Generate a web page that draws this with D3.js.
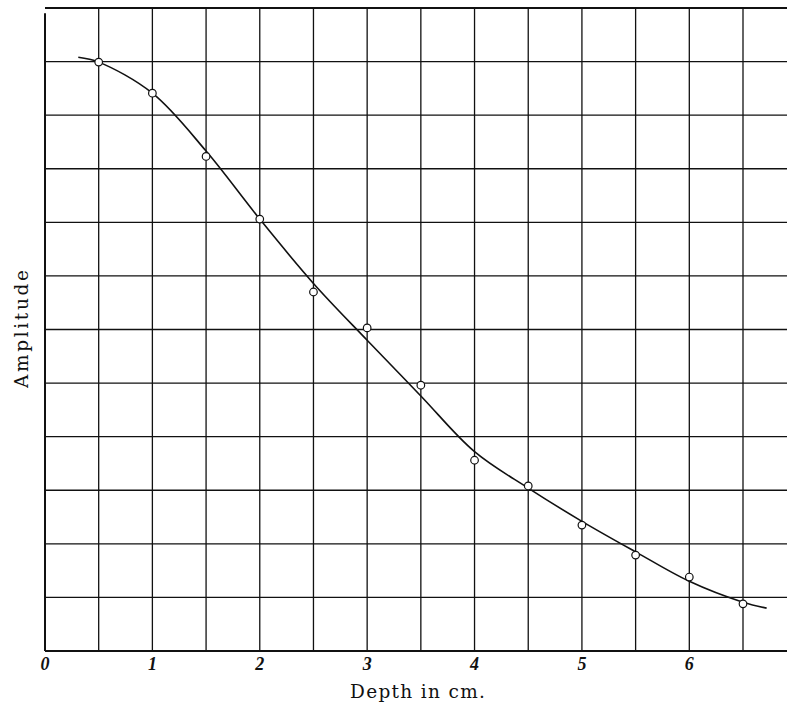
<!DOCTYPE html>
<html>
<head>
<meta charset="utf-8">
<script src="https://cdn.jsdelivr.net/npm/d3@7"></script>
<style>
  body { margin: 0; background: #fff; }
  svg { display: block; }
</style>
</head>
<body>
<svg></svg>
<script>
// page size
const width = 787,
    height = 706;

// measured points (depth in cm, amplitude in grid units)
const depths = [0.5, 1, 1.5, 2, 2.5, 3, 3.5, 4, 4.5, 5, 5.5, 6, 6.5];
const amplitudes = [10.99, 10.41, 9.23, 8.06, 6.70, 6.03, 4.96, 3.56, 3.08, 2.35, 1.79, 1.38, 0.88];

// smooth drawn curve
const curveDepths = [0.31, 0.5, 1, 1.5, 2, 2.5, 3, 3.5, 4, 4.5, 5, 5.5, 6, 6.5, 6.72];
const curveAmps = [11.08, 10.99, 10.41, 9.33, 8.06, 6.86, 5.80, 4.76, 3.72, 3.04, 2.42, 1.85, 1.30, 0.91, 0.80];

const xTickLabels = ["0", "1", "2", "3", "4", "5", "6"];
const xGrid = [0.5, 1, 1.5, 2, 2.5, 3, 3.5, 4, 4.5, 5, 5.5, 6, 6.5];
const yGrid = [1, 2, 3, 4, 5, 6, 7, 8, 9, 10, 11, 12];

const x = d3.scaleLinear().domain([0, 6.5]).range([45, 743]);
const y = d3.scaleLinear().domain([0, 12]).range([651, 8]);

const svg = d3.select("svg")
    .attr("width", width)
    .attr("height", height);

// horizontal grid lines
svg.selectAll(".hgrid")
    .data(yGrid)
    .enter()
    .append("line")
    .attr("class", "hgrid")
    .attr("x1", x(0))
    .attr("x2", width)
    .attr("y1", d => y(d))
    .attr("y2", d => y(d))
    .attr("stroke", "#111")
    .attr("stroke-width", d => d === 12 ? 1.8 : 1.3);

// vertical grid lines
svg.selectAll(".vgrid")
    .data(xGrid)
    .enter()
    .append("line")
    .attr("class", "vgrid")
    .attr("x1", d => x(d))
    .attr("x2", d => x(d))
    .attr("y1", y(12))
    .attr("y2", y(0))
    .attr("stroke", "#111")
    .attr("stroke-width", 1.3);

// axes frame
svg.append("line")
    .attr("x1", x(0)).attr("x2", x(0))
    .attr("y1", y(11.9)).attr("y2", y(0))
    .attr("stroke", "#111")
    .attr("stroke-width", 2);

svg.append("line")
    .attr("x1", x(0)).attr("x2", width)
    .attr("y1", y(0)).attr("y2", y(0))
    .attr("stroke", "#111")
    .attr("stroke-width", 1.8);

// x tick labels
svg.selectAll(".xlab")
    .data(xTickLabels)
    .enter()
    .append("text")
    .attr("class", "xlab")
    .attr("x", d => x(+d))
    .attr("y", 670)
    .attr("text-anchor", "middle")
    .attr("font-family", "Liberation Serif, serif")
    .attr("font-style", "italic")
    .attr("font-weight", "bold")
    .attr("font-size", 18)
    .attr("fill", "#111")
    .text(d => d);

// axis titles
svg.append("text")
    .attr("x", 350)
    .attr("y", 698)
    .attr("textLength", 135)
    .attr("lengthAdjust", "spacing")
    .attr("font-family", "DejaVu Serif, serif")
    .attr("font-size", 18.5)
    .attr("fill", "#111")
    .text("Depth in cm.");

svg.append("text")
    .attr("transform", "translate(28,388) rotate(-90)")
    .attr("textLength", 118)
    .attr("lengthAdjust", "spacing")
    .attr("font-family", "DejaVu Serif, serif")
    .attr("font-size", 18.5)
    .attr("fill", "#111")
    .text("Amplitude");

// smooth curve
const line = d3.line()
    .x(d => x(d[0]))
    .y(d => y(d[1]))
    .curve(d3.curveCatmullRom.alpha(0.5));

svg.append("path")
    .datum(curveDepths.map((d, i) => [d, curveAmps[i]]))
    .attr("d", line)
    .attr("fill", "none")
    .attr("stroke", "#111")
    .attr("stroke-width", 1.6);

// observed points
svg.selectAll(".pt")
    .data(depths.map((d, i) => [d, amplitudes[i]]))
    .enter()
    .append("circle")
    .attr("class", "pt")
    .attr("cx", d => x(d[0]))
    .attr("cy", d => y(d[1]))
    .attr("r", 3.8)
    .attr("fill", "#fff")
    .attr("stroke", "#111")
    .attr("stroke-width", 1.2);
</script>
</body>
</html>
